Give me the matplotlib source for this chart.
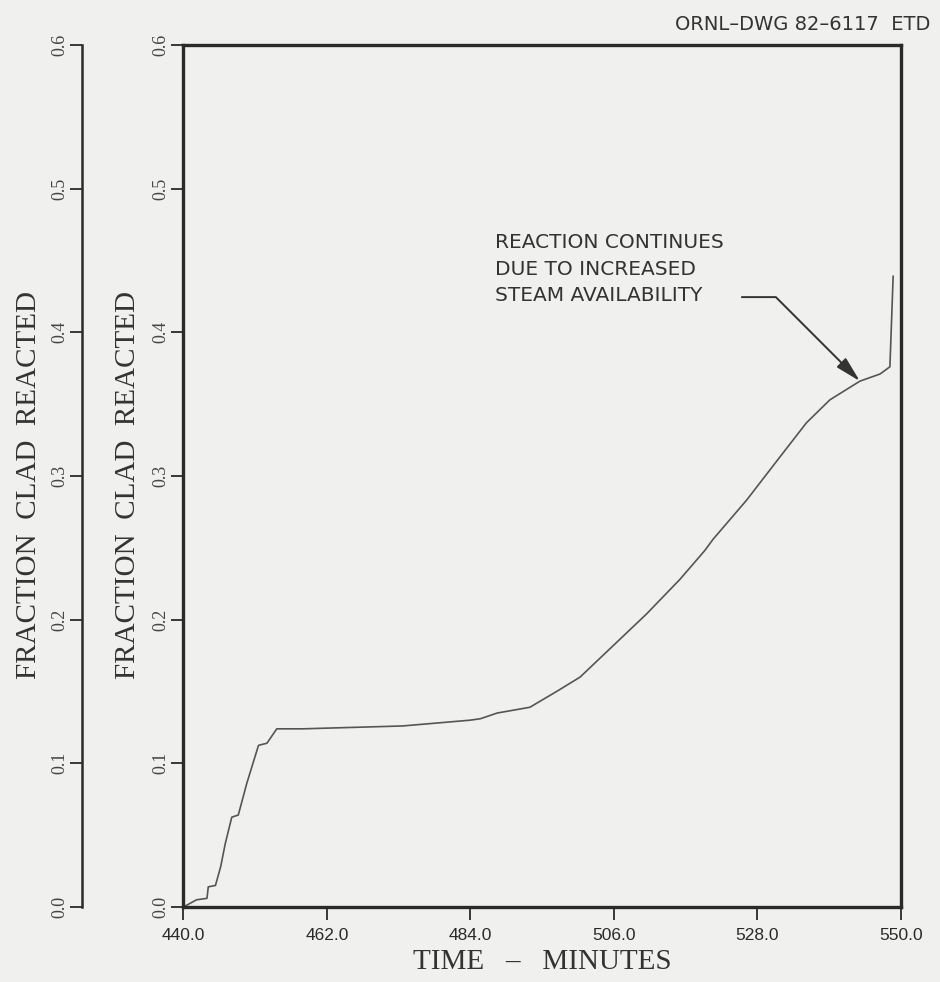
import matplotlib
matplotlib.use("Agg")
import matplotlib.pyplot as plt

# Cladding oxidation history (fraction of clad reacted vs. time)
time_min = [440.0, 442.0, 443.6, 443.8, 444.9, 445.7, 446.4, 447.4, 448.4, 449.7,
            451.5, 452.8, 454.3, 458.3, 473.6, 483.9, 485.5, 488.1, 493.1, 497.2,
            500.8, 505.9, 511.0, 516.1, 519.9, 521.2, 526.3, 531.4, 535.5, 539.1,
            543.7, 546.8, 548.3, 548.8]
frac_reacted = [0.0, 0.005, 0.006, 0.014, 0.015, 0.028, 0.044, 0.0625, 0.064, 0.086,
                0.1125, 0.114, 0.124, 0.124, 0.126, 0.130, 0.131, 0.135, 0.139, 0.150,
                0.160, 0.182, 0.204, 0.228, 0.248, 0.256, 0.283, 0.313, 0.337, 0.353,
                0.366, 0.371, 0.376, 0.439]

x_ticks = [440.0, 462.0, 484.0, 506.0, 528.0, 550.0]
y_ticks = [0.0, 0.1, 0.2, 0.3, 0.4, 0.5, 0.6]

BG = "#f0f0ee"
INK = "#2a2a2a"
SERIF = ["Liberation Serif", "DejaVu Serif"]
SANS = ["Liberation Sans", "DejaVu Sans"]
WIDE_SANS = ["DejaVu Sans"]

fig = plt.figure(figsize=(9.4, 9.82), dpi=100, facecolor=BG)
ax = fig.add_axes([0.1952, 0.0764, 0.7633, 0.8778], facecolor=BG)

ax.plot(time_min, frac_reacted, color="#555555", lw=1.2)

ax.set_xlim(440, 550)
ax.set_ylim(0, 0.6)
ax.set_xticks(x_ticks)
ax.set_xticklabels([f"{v:.1f}" for v in x_ticks], family=SANS, fontsize=12.5, color=INK)
ax.set_yticks(y_ticks)
ax.set_yticklabels([f"{v:.1f}" for v in y_ticks], family=SERIF, fontsize=13,
                   rotation=90, va="center", color="#444444")

for s in ax.spines.values():
    s.set_linewidth(2.4)
    s.set_color(INK)
ax.tick_params(axis="both", direction="out", length=9, width=1.3, color=INK)
ax.tick_params(axis="x", pad=6)
ax.tick_params(axis="y", pad=1)

ax.set_xlabel("TIME   –   MINUTES", family=SERIF, fontsize=21, color="#333333",
              va="center")
ax.xaxis.set_label_coords(0.5, -0.064)
ax.set_ylabel("FRACTION  CLAD  REACTED", family=SERIF, fontsize=21, color="#333333",
              va="center")
ax.yaxis.set_label_coords(-0.0775, 0.49)

# duplicate scale further left
sec = ax.secondary_yaxis(-0.1408)
sec.set_yticks(y_ticks)
sec.set_yticklabels([f"{v:.1f}" for v in y_ticks], family=SERIF, fontsize=13,
                    rotation=90, va="center", color="#444444")
sec.spines["left"].set_linewidth(1.8)
sec.spines["left"].set_color(INK)
sec.tick_params(axis="y", direction="out", length=9, width=1.3, color=INK, pad=1)
sec.set_ylabel("FRACTION  CLAD  REACTED", family=SERIF, fontsize=21, color="#333333",
               va="center")
sec.yaxis.set_label_coords(-0.216, 0.49, transform=ax.transAxes)

# annotation
ax.text(487.75, 0.469, "REACTION CONTINUES\nDUE TO INCREASED\nSTEAM AVAILABILITY",
        family=WIDE_SANS, fontsize=14.5, color="#333333", ha="left", va="top",
        linespacing=1.5)
ax.annotate("", xy=(543.7, 0.366), xytext=(525.6, 0.4245),
            arrowprops=dict(arrowstyle="-|>,head_length=1.2,head_width=0.3",
                            connectionstyle="angle,angleA=0,angleB=135,rad=0",
                            color="#333333", lw=1.4, mutation_scale=13,
                            shrinkA=0, shrinkB=0))

fig.text(0.99, 0.985, "ORNL–DWG 82–6117  ETD", family=WIDE_SANS, fontsize=14,
         color="#333333", ha="right", va="top")

fig.savefig("out.png", dpi=100, facecolor=BG)
